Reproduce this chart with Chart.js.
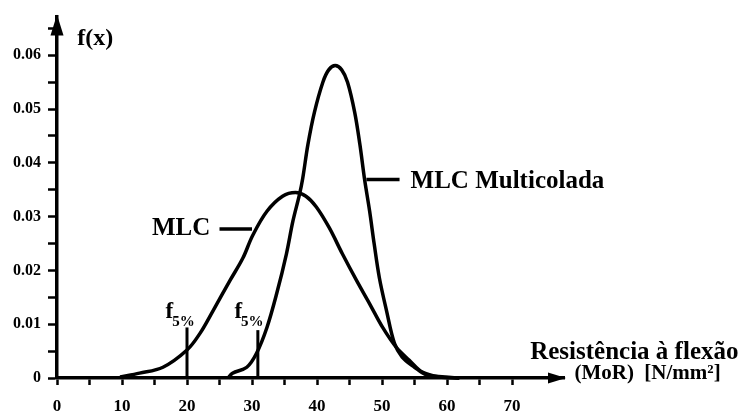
<!DOCTYPE html>
<html>
<head>
<meta charset="utf-8">
<script src="https://cdn.jsdelivr.net/npm/chart.js@4/dist/chart.umd.min.js"></script>
<style>
  html, body { margin: 0; padding: 0; background: #fff; }
  #wrap { width: 748px; height: 416px; }
</style>
</head>
<body>
<div id="wrap"><canvas id="c" width="748" height="416"></canvas></div>
<script>
// ---- Data ----
const mlcX   = [9.7, 12.7, 16.3, 20.0, 22.0, 24.0, 26.6, 28.6, 30.1, 32.3, 34.7, 36.7, 38.3, 39.9, 41.9, 43.9, 46.1, 48.1, 50.1, 52.2, 54.2, 56.2, 58.8, 61.9];
const mlcY   = [0.0002, 0.0009, 0.0020, 0.0052, 0.0083, 0.0125, 0.0181, 0.0223, 0.0265, 0.0310, 0.0338, 0.0345, 0.0338, 0.0318, 0.0279, 0.0231, 0.0181, 0.0138, 0.0094, 0.0057, 0.0033, 0.0011, 0.0002, 0.0000];
const multiX = [26.3, 27.0, 29.2, 30.7, 32.3, 33.8, 35.3, 36.3, 37.3, 37.8, 38.6, 39.6, 40.9, 41.8, 42.8, 43.8, 44.7, 45.8, 46.6, 47.3, 48.1, 48.8, 49.6, 50.7, 51.9, 53.1, 55.0, 56.8, 59.6, 61.9];
const multiY = [0.0000, 0.0009, 0.0020, 0.0046, 0.0094, 0.0157, 0.0231, 0.0292, 0.0341, 0.0371, 0.0434, 0.0494, 0.0550, 0.0573, 0.0581, 0.0573, 0.0550, 0.0494, 0.0434, 0.0371, 0.0310, 0.0249, 0.0186, 0.0125, 0.0065, 0.0039, 0.0020, 0.0006, 0.0002, 0.0000];
const f5X    = [20.0, 30.9];          // f5% marker positions
const f5Top  = [0.0094, 0.0089];      // heights of f5% marker lines
const xTickLabels = [0, 10, 20, 30, 40, 50, 60, 70];
const yTickLabels = [0, 0.01, 0.02, 0.03, 0.04, 0.05, 0.06];
const seriesNames = ['MLC', 'MLC Multicolada'];
const mlcLeaderX = [25.0, 30.0], mlcLeaderY = 0.0277;
const multiLeaderX = [47.6, 52.7], multiLeaderY = 0.0369;

const toPts = (xs, ys) => xs.map((x, i) => ({x, y: ys[i]}));
const lineStyle = { borderColor: '#000', borderWidth: 3.5, pointRadius: 0, fill: false, clip: false, tension: 0 };

const datasets = [
  Object.assign({ label: seriesNames[0], data: toPts(mlcX, mlcY) }, lineStyle, { tension: 0.35 }),
  Object.assign({ label: seriesNames[1], data: toPts(multiX, multiY) }, lineStyle, { tension: 0.35 }),
  Object.assign({ label: 'f5a', data: [{x: f5X[0], y: 0}, {x: f5X[0], y: f5Top[0]}] }, lineStyle, {borderWidth: 3}),
  Object.assign({ label: 'f5b', data: [{x: f5X[1], y: 0}, {x: f5X[1], y: f5Top[1]}] }, lineStyle, {borderWidth: 3}),
  Object.assign({ label: 'lead1', data: [{x: mlcLeaderX[0], y: mlcLeaderY}, {x: mlcLeaderX[1], y: mlcLeaderY}] }, lineStyle),
  Object.assign({ label: 'lead2', data: [{x: multiLeaderX[0], y: multiLeaderY}, {x: multiLeaderX[1], y: multiLeaderY}] }, lineStyle)
];

const SERIF = '"Liberation Serif", "Times New Roman", serif';

const annot = {
  id: 'annot',
  afterDraw(chart) {
    const ctx = chart.ctx, xs = chart.scales.x, ys = chart.scales.y, ca = chart.chartArea;
    const px = v => xs.getPixelForValue(v), py = v => ys.getPixelForValue(v);
    ctx.save();
    ctx.fillStyle = '#000';
    // axis arrowheads
    ctx.beginPath();
    ctx.moveTo(ca.left, ca.top - 2);
    ctx.lineTo(ca.left - 6.5, ca.top + 19);
    ctx.lineTo(ca.left + 6.5, ca.top + 19);
    ctx.closePath(); ctx.fill();
    ctx.beginPath();
    ctx.moveTo(ca.right + 2, ca.bottom);
    ctx.lineTo(ca.right - 16, ca.bottom - 5.5);
    ctx.lineTo(ca.right - 16, ca.bottom + 5.5);
    ctx.closePath(); ctx.fill();

    ctx.textBaseline = 'middle';
    ctx.textAlign = 'left';
    const txt = (s, x, y, size) => { ctx.font = 'bold ' + size + 'px ' + SERIF; ctx.fillText(s, px(x), py(y)); };
    txt('f(x)', 3.1, 0.0631, 24);
    txt(seriesNames[1], 54.4, 0.0365, 25);
    txt(seriesNames[0], 14.6, 0.0277, 25);
    txt('Resistência à flexão', 72.8, 0.0048, 25);
    txt('(MoR)  [N/mm²]', 79.6, 0.0009, 21);
    // f5% labels
    const f5Label = [16.7, 27.3];
    f5Label.forEach(x => {
      ctx.font = 'bold 23px ' + SERIF;
      ctx.textBaseline = 'alphabetic';
      const x0 = px(x), y0 = py(0.0112);
      ctx.fillText('f', x0, y0);
      const w = ctx.measureText('f').width;
      ctx.font = 'bold 15px ' + SERIF;
      ctx.fillText('5%', x0 + w - 1, y0 + 8);
    });
    ctx.restore();
  }
};

new Chart(document.getElementById('c'), {
  type: 'line',
  data: { datasets },
  options: {
    responsive: false,
    animation: false,
    events: [],
    layout: { padding: { top: 14, right: 184, left: 0, bottom: 0 } },
    plugins: { legend: { display: false }, tooltip: { enabled: false } },
    scales: {
      x: {
        type: 'linear', min: 0, max: 78,
        afterFit: s => { s.height = 38; },
        afterBuildTicks: s => { s.ticks = s.ticks.filter(t => t.value <= 70); },
        ticks: {
          stepSize: 5, autoSkip: false, maxRotation: 0, padding: 11, color: '#000',
          font: { family: SERIF, size: 17, weight: 'bold' },
          callback: v => (xTickLabels.includes(v) ? String(v) : '')
        },
        grid: { display: true, drawOnChartArea: false, drawTicks: true, tickLength: 7, tickWidth: 2.5, tickColor: '#000' },
        border: { display: true, color: '#000', width: 3.5 }
      },
      y: {
        type: 'linear', min: 0, max: 0.0672,
        afterFit: s => { s.width = 57; },
        afterBuildTicks: s => { s.ticks = s.ticks.filter(t => t.value <= 0.0651); },
        ticks: {
          stepSize: 0.005, includeBounds: false, autoSkip: false, padding: 7, color: '#000',
          font: { family: SERIF, size: 16, weight: 'bold' },
          callback: v => {
            const m = yTickLabels.find(t => Math.abs(t - v) < 1e-6);
            return m === undefined ? '' : (m === 0 ? '0' : m.toFixed(2));
          }
        },
        grid: { display: true, drawOnChartArea: false, drawTicks: true, tickLength: 9, tickWidth: 2.5, tickColor: '#000' },
        border: { display: true, color: '#000', width: 3.5 }
      }
    }
  },
  plugins: [annot]
});
</script>
</body>
</html>
